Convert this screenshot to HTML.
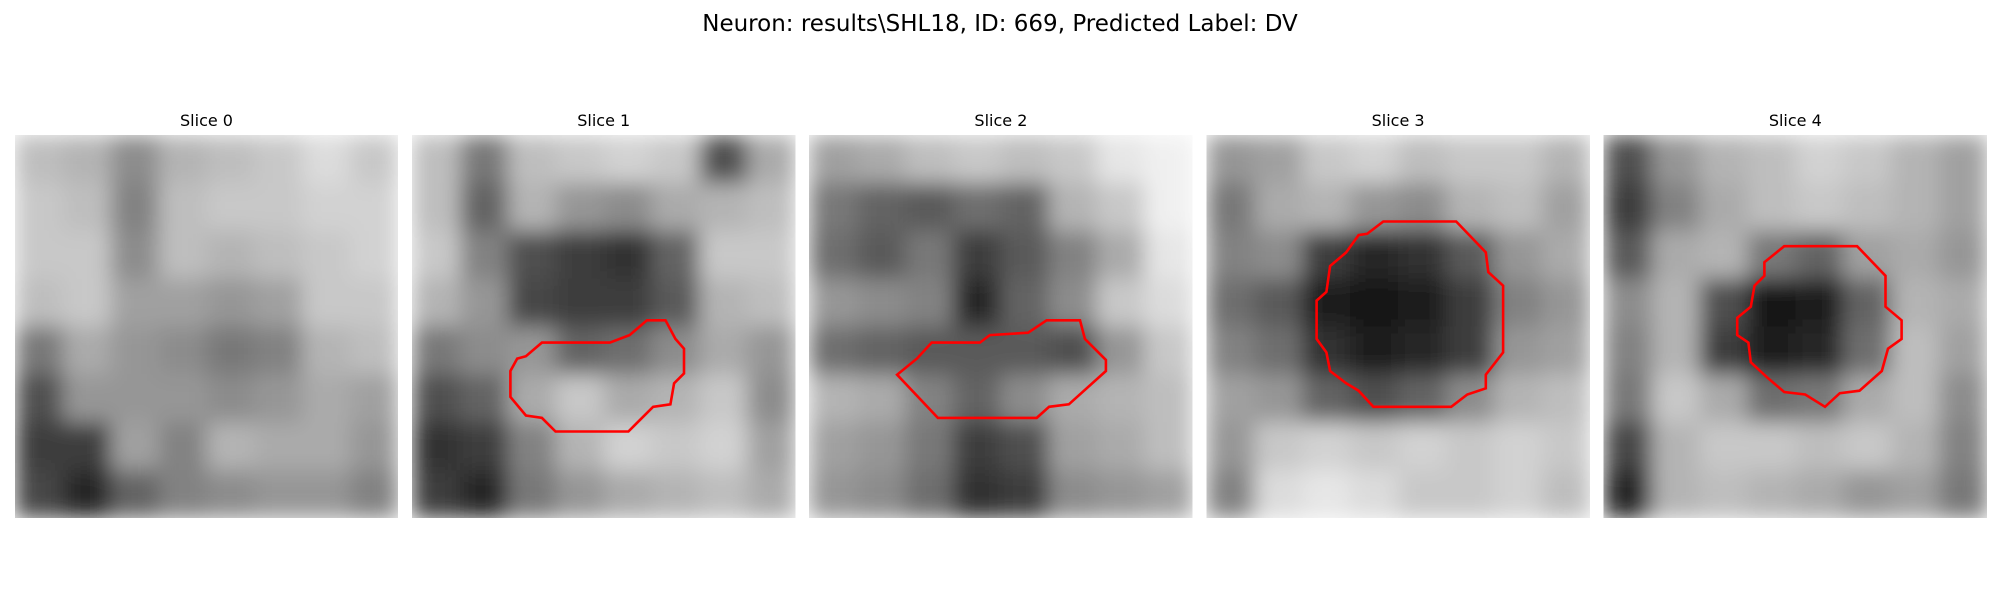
<!DOCTYPE html>
<html><head><meta charset="utf-8"><style>
html,body{margin:0;padding:0;background:#fff;}
svg{display:block;font-family:"DejaVu Sans","Liberation Sans",sans-serif;}
</style></head><body>
<svg id="fig" width="2000" height="600" viewBox="0 0 2000 600">
<text x="1000" y="31" text-anchor="middle" font-size="23" fill="#000">Neuron: results\SHL18, ID: 669, Predicted Label: DV</text>
<g id="panels"></g>
</svg>
<script>
const sliceLabels = ["Slice 0","Slice 1","Slice 2","Slice 3","Slice 4"];
const gridSize = 31;
const slice0 = [[190,180,140,180,190,200,220,200],[200,190,130,190,200,200,210,210],[200,200,140,190,180,190,200,210],[190,200,160,160,150,160,200,200],[120,170,150,140,120,130,180,190],[80,150,150,150,140,150,170,160],[60,60,160,130,180,170,170,150],[70,40,100,130,140,150,150,130]];
const slice1 = [[190,120,190,200,210,200,80,170],[190,100,180,150,140,170,180,190],[200,130,80,60,50,100,200,200],[180,150,70,60,60,90,180,190],[120,140,150,100,110,140,170,150],[80,100,170,200,170,180,200,140],[50,60,130,180,210,200,210,160],[60,40,120,150,170,180,190,170]];
const slice2 = [[160,170,190,200,190,200,230,240],[120,100,90,110,100,180,200,240],[110,90,120,60,90,130,170,230],[150,140,130,40,100,140,200,220],[110,100,90,90,90,80,150,200],[180,170,130,100,140,170,180,190],[160,150,120,60,80,160,170,190],[150,140,110,50,60,140,150,160]];
const slice3 = [[150,160,200,210,190,200,200,180],[120,170,180,150,140,180,190,160],[130,140,60,40,50,90,150,170],[110,90,30,20,30,60,130,150],[130,110,50,30,40,60,150,160],[160,150,100,80,100,140,180,190],[150,200,210,200,210,200,210,200],[130,220,230,220,200,200,210,190]];
const slice4 = [[80,150,180,190,210,200,180,160],[60,130,170,190,200,190,180,160],[90,170,180,120,100,160,170,150],[140,180,80,20,30,100,180,170],[130,180,60,30,40,110,190,160],[120,200,170,110,120,170,190,140],[70,180,200,200,190,200,180,130],[40,180,190,180,170,150,160,120]];
const contour1 = [[7.95,19.1],[7.95,21.2],[9.2,22.7],[10.5,22.9],[11.6,24.0],[17.5,24.0],[19.5,22.0],[20.9,21.8],[21.2,20.1],[22.0,19.3],[22.0,17.3],[21.3,16.5],[20.5,15.0],[19.0,15.0],[17.6,16.2],[16.0,16.8],[10.5,16.8],[9.2,17.9],[8.5,18.1]];
const contour2 = [[7.1,19.4],[10.4,22.9],[18.4,22.9],[19.4,22.0],[21.0,21.8],[24.0,19.1],[24.0,18.2],[22.3,16.5],[21.9,15.0],[19.2,15.0],[17.7,16.0],[14.6,16.2],[13.8,16.8],[9.9,16.8],[8.7,18.1]];
const contour3 = [[14.3,7.0],[20.2,7.0],[22.6,9.5],[22.8,11.1],[24.0,12.2],[24.0,17.6],[22.6,19.4],[22.6,20.5],[21.1,21.0],[19.8,22.0],[13.5,22.0],[12.3,20.7],[11.3,20.1],[10.0,19.1],[9.7,17.6],[8.9,16.5],[8.9,13.4],[9.7,12.7],[10.0,10.6],[11.3,9.5],[12.3,8.1],[13.0,8.0]];
const contour4 = [[14.6,9.0],[20.5,9.0],[22.8,11.4],[22.8,13.9],[24.1,15.0],[24.1,16.5],[23.0,17.3],[22.5,19.1],[20.7,20.7],[19.1,20.9],[17.9,22.0],[16.3,21.0],[14.6,20.8],[13.2,19.6],[11.9,18.4],[11.7,16.8],[10.8,16.2],[10.8,14.8],[11.9,13.9],[12.2,12.2],[13.0,11.4],[13.0,10.3]];

const slices=[slice0,slice1,slice2,slice3,slice4];
const contours=[null,contour1,contour2,contour3,contour4];
const NS="http://www.w3.org/2000/svg";
const panelX0=15, panelStep=397.2, panelY=135, panelW=383;
const root=document.getElementById('panels');
const defs=document.createElementNS(NS,'defs');root.appendChild(defs);
function mk(t,a,p){const e=document.createElementNS(NS,t);for(const k in a)e.setAttribute(k,a[k]);p.appendChild(e);return e;}
slices.forEach((grid,i)=>{
  const px=panelX0+i*panelStep;
  const g=mk('g',{},root);
  
  
  const t=mk('text',{x:px+panelW/2,y:126,'text-anchor':'middle','font-size':16,fill:'#000'},g);
  t.textContent=sliceLabels[i];
  
  
  const f=mk('filter',{id:'bl'+i,filterUnits:'userSpaceOnUse',x:px,y:panelY,width:panelW,height:panelW},defs);
  mk('feGaussianBlur',{stdDeviation:11,edgeMode:'duplicate'},f);
  const img=mk('g',{filter:'url(#bl'+i+')'},g);
  
  
  const n=grid.length, c=panelW/n;
  grid.forEach((row,r)=>row.forEach((v,k)=>{
    const rc=mk('rect',{x:px+k*c,y:panelY+r*c,width:c+0.6,height:c+0.6,fill:`rgb(${v},${v},${v})`},img);
    
    
  }));
  const cont=contours[i];
  if(cont){
    const s=panelW/gridSize;
    const pts=cont.map(p=>(px+p[0]*s).toFixed(1)+','+(panelY+p[1]*s).toFixed(1)).join(' ');
    const pg=mk('polygon',{points:pts,fill:'none',stroke:'#ff0000','stroke-width':2.6,'stroke-linejoin':'miter'},g);
    
    
  }
});
</script>
</body></html>
